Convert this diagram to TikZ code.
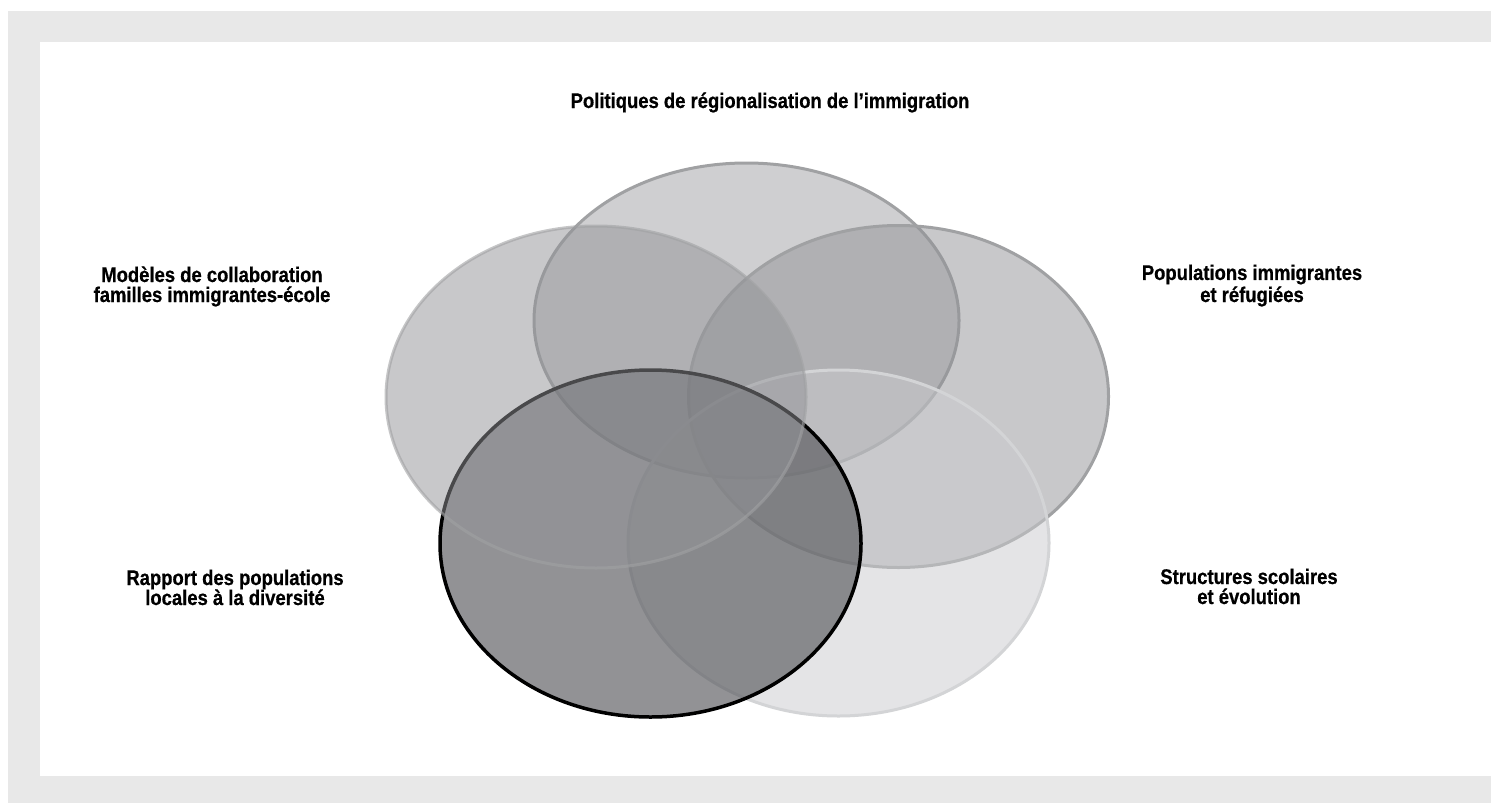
\documentclass[tikz,border=0pt]{standalone}
\usepackage{fontspec}
\setmainfont{Liberation Sans}[FakeStretch=0.87,BoldFeatures={FakeBold=0.6}]
\begin{document}
\begin{tikzpicture}[x=0.5pt,y=-0.5pt,
  lab/.style={font=\fontsize{10.6}{10}\selectfont\bfseries, align=center, inner sep=0pt, anchor=base},
  venn/.style={line width=1.5pt, fill opacity=0.5, draw opacity=1},
]
\definecolor{framegray}{RGB}{232,232,232}
\definecolor{topfill}{RGB}{160,161,165}
\definecolor{sidefill}{RGB}{146,147,151}
\definecolor{lightfill}{RGB}{202,203,206}
\definecolor{darkfill}{RGB}{88,89,93}
\definecolor{ringgray}{RGB}{160,161,163}
\definecolor{ringlight}{RGB}{211,212,214}
\useasboundingbox (0,0) rectangle (1491,803);
\fill[white] (0,0) rectangle (1491,803);
\fill[framegray] (8,11) rectangle (1491,803);
\fill[white] (40,42) rectangle (1491,776);
% ellipses
\path[venn, draw=ringgray, fill=topfill] (746.5,320.5) ellipse [x radius=212.5, y radius=157.5];
\path[venn, draw=ringgray, fill=sidefill] (898.5,396.5) ellipse [x radius=210, y radius=171];
\path[venn, draw=ringlight, fill=lightfill] (838.5,543) ellipse [x radius=210.5, y radius=173];
\path[line width=1.75pt, draw=black, fill=darkfill, fill opacity=0.65, draw opacity=1] (650.5,543.5) ellipse [x radius=210.5, y radius=173.5];
\path[venn, draw=ringgray, fill=sidefill, draw opacity=0.6] (596,397) ellipse [x radius=210, y radius=171];
% labels (anchor base = baseline of the last line)
\node[lab] (pol) at (770,108) {Politiques de régionalisation de l’immigration};
\node[lab] (mod) at (212,302) {Modèles de collaboration\\familles immigrantes-école};
\node[lab] (pop) at (1252,302) {Populations immigrantes\\et réfugiées};
\node[lab] (rap) at (235,605) {Rapport des populations\\locales à la diversité};
\node[lab] (str) at (1249,604) {Structures scolaires\\et évolution};
\end{tikzpicture}
\end{document}
